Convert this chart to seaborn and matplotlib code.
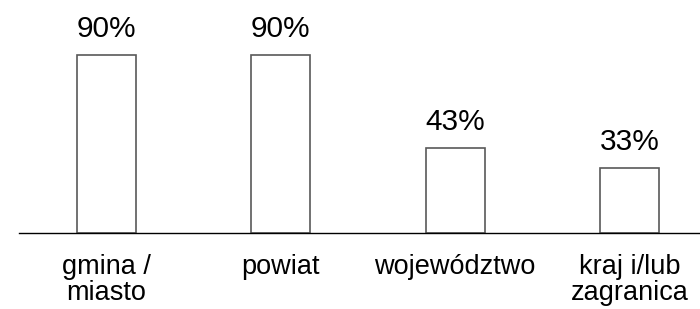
import matplotlib
matplotlib.use("Agg")
import pandas as pd
import seaborn as sns
import matplotlib.pyplot as plt

# dane
kategorie = ['gmina /\nmiasto', 'powiat', 'województwo', 'kraj i/lub\nzagranica']
procenty = [90, 90, 43, 33]

df = pd.DataFrame({'kat': kategorie, 'pct': procenty})

sns.set_style('white')
plt.rcParams['font.family'] = ['Liberation Sans', 'DejaVu Sans']

fig = plt.figure(figsize=(7, 3.09), dpi=100)
ax = fig.add_axes([0.027, 0.246, 0.973, 0.641])

sns.barplot(data=df, x='kat', y='pct', color='white', edgecolor='#595959',
            linewidth=1.2, width=0.338, ax=ax)

ax.set_ylim(0, 100)
ax.set_xlim(-0.502, 3.405)
for i, v in enumerate(procenty):
    ax.text(i, v + 6, f'{v}%', ha='center', va='bottom', fontsize=21.5, color='black')

for s in ['top', 'right', 'left']:
    ax.spines[s].set_visible(False)
ax.spines['bottom'].set_color('black')
ax.spines['bottom'].set_linewidth(1.0)
ax.set_yticks([])
ax.set_xlabel('')
ax.set_ylabel('')
ax.tick_params(axis='x', length=0, pad=15, labelsize=19.5, colors='black')
for t in ax.get_xticklabels():
    t.set_linespacing(1.0)

fig.savefig('out.png', dpi=100)
